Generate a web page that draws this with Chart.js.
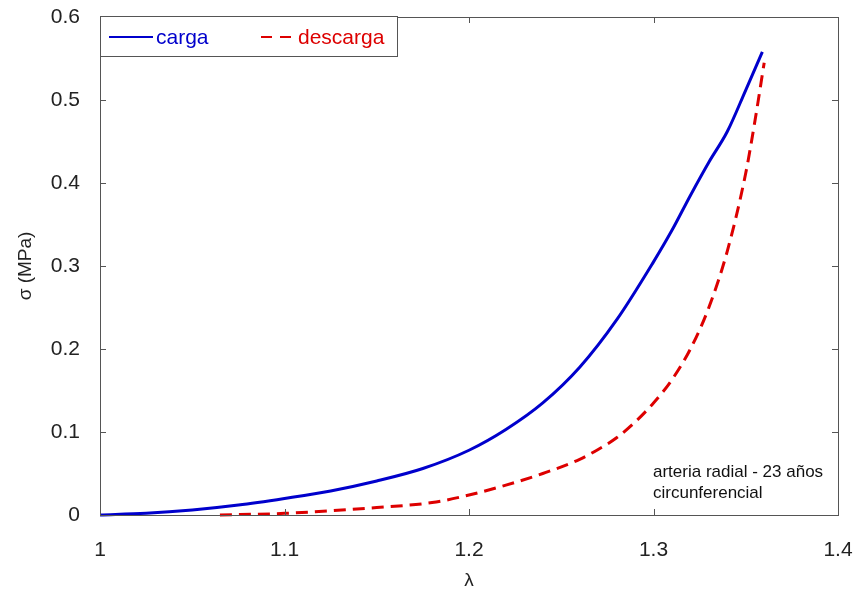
<!DOCTYPE html>
<html>
<head>
<meta charset="utf-8">
<script src="https://cdn.jsdelivr.net/npm/chart.js@4.4.1/dist/chart.umd.min.js"></script>
<style>
  html, body { margin: 0; padding: 0; background: #fff; }
  #wrap { width: 855px; height: 594px; }
</style>
</head>
<body>
<div id="wrap"><canvas id="grafico"></canvas></div>
<script>
// carga (loading) curve
const lambdaCarga = [1.000, 1.025, 1.050, 1.075, 1.100, 1.125, 1.150, 1.175, 1.200, 1.220, 1.240, 1.260, 1.280, 1.300, 1.310, 1.320, 1.330, 1.340, 1.350, 1.359];
const sigmaCarga  = [0.000, 0.002, 0.006, 0.012, 0.020, 0.029, 0.041, 0.056, 0.078, 0.103, 0.135, 0.178, 0.235, 0.305, 0.343, 0.385, 0.425, 0.462, 0.512, 0.558];

// descarga (unloading) curve
const lambdaDescarga = [1.065, 1.100, 1.150, 1.180, 1.200, 1.220, 1.240, 1.260, 1.270, 1.280, 1.290, 1.300, 1.310, 1.320, 1.330, 1.340, 1.350, 1.355, 1.360];
const sigmaDescarga  = [0.000, 0.002, 0.009, 0.015, 0.024, 0.036, 0.050, 0.067, 0.079, 0.093, 0.112, 0.135, 0.163, 0.200, 0.250, 0.318, 0.412, 0.475, 0.545];

const xTicks = [1, 1.1, 1.2, 1.3, 1.4];
const yTicks = [0, 0.1, 0.2, 0.3, 0.4, 0.5, 0.6];

const serieNombres = ['carga', 'descarga'];
const notaTexto = ['arteria radial - 23 años', 'circunferencial'];

const AZUL = '#0000cc';
const ROJO = '#dd0000';
const MARCO = '#555555';

const toPoints = (xs, ys) => xs.map((x, i) => ({ x: x, y: ys[i] }));

// frame box with inward ticks on all four sides
const marcoPlugin = {
    id: 'marco',
    afterDraw(chart) {
        const { ctx, chartArea: a, scales } = chart;
        ctx.save();
        ctx.strokeStyle = MARCO;
        ctx.lineWidth = 1;
        ctx.strokeRect(a.left + 0.5, a.top + 0.5, a.right - a.left, a.bottom - a.top);
        const len = 6;
        ctx.beginPath();
        xTicks.forEach(v => {
            const px = Math.round(scales.x.getPixelForValue(v)) + 0.5;
            ctx.moveTo(px, a.bottom); ctx.lineTo(px, a.bottom - len);
            ctx.moveTo(px, a.top); ctx.lineTo(px, a.top + len);
        });
        yTicks.forEach(v => {
            const py = Math.round(scales.y.getPixelForValue(v)) + 0.5;
            ctx.moveTo(a.left, py); ctx.lineTo(a.left + len, py);
            ctx.moveTo(a.right, py); ctx.lineTo(a.right - len, py);
        });
        ctx.stroke();

        // annotation text
        ctx.fillStyle = '#111';
        ctx.font = '17px "Liberation Sans", Arial, sans-serif';
        ctx.textBaseline = 'alphabetic';
        ctx.textAlign = 'left';
        ctx.fillText(notaTexto[0], a.left + 553, a.bottom - 38);
        ctx.fillText(notaTexto[1], a.left + 553, a.bottom - 17);

        // legend box
        const lx = a.left, ly = a.top - 1, lw = 297, lh = 40;
        ctx.fillStyle = '#fff';
        ctx.fillRect(lx, ly, lw, lh);
        ctx.strokeStyle = MARCO;
        ctx.strokeRect(lx + 0.5, ly + 0.5, lw, lh);
        const cy = ly + 21;
        ctx.lineWidth = 2;
        ctx.strokeStyle = AZUL;
        ctx.beginPath(); ctx.moveTo(lx + 9, cy); ctx.lineTo(lx + 53, cy); ctx.stroke();
        ctx.strokeStyle = ROJO;
        ctx.setLineDash([11, 8]);
        ctx.beginPath(); ctx.moveTo(lx + 161, cy); ctx.lineTo(lx + 192, cy); ctx.stroke();
        ctx.setLineDash([]);
        ctx.font = '21px "Liberation Sans", Arial, sans-serif';
        ctx.textBaseline = 'middle';
        ctx.fillStyle = AZUL;
        ctx.fillText(serieNombres[0], lx + 56, cy + 1);
        ctx.fillStyle = ROJO;
        ctx.fillText(serieNombres[1], lx + 198, cy + 1);
        ctx.restore();
    }
};

const ctx = document.getElementById('grafico').getContext('2d');
new Chart(ctx, {
    type: 'line',
    data: {
        datasets: [{
            label: serieNombres[0],
            data: toPoints(lambdaCarga, sigmaCarga),
            borderColor: AZUL,
            borderWidth: 3,
            pointRadius: 0,
            cubicInterpolationMode: 'monotone',
            clip: 3
        }, {
            label: serieNombres[1],
            data: toPoints(lambdaDescarga, sigmaDescarga),
            borderColor: ROJO,
            borderWidth: 3,
            borderDash: [12, 7],
            pointRadius: 0,
            cubicInterpolationMode: 'monotone',
            clip: 3
        }]
    },
    options: {
        responsive: true,
        maintainAspectRatio: false,
        animation: false,
        layout: { padding: { top: 17, right: 17, left: 0, bottom: 0 } },
        plugins: {
            legend: { display: false },
            tooltip: { enabled: false }
        },
        scales: {
            x: {
                type: 'linear',
                min: 1, max: 1.4,
                afterFit: s => {
                    s.height = 79;
                    s.paddingLeft = 0;
                    s.paddingRight = 0;
                },
                afterBuildTicks: s => { s.ticks = xTicks.map(v => ({ value: v })); },
                grid: { display: false, drawTicks: false },
                border: { display: false },
                ticks: {
                    padding: 23,
                    color: '#222',
                    font: { family: '"Liberation Sans", Arial, sans-serif', size: 21 },
                    callback: v => String(v)
                },
                title: {
                    display: true,
                    text: 'λ',
                    color: '#222',
                    font: { family: '"Liberation Sans", Arial, sans-serif', size: 19 },
                    padding: { top: 0, bottom: 2 }
                }
            },
            y: {
                type: 'linear',
                min: 0, max: 0.6,
                afterFit: s => {
                    s.width = 100;
                    s.paddingTop = 0;
                    s.paddingBottom = 0;
                },
                afterBuildTicks: s => { s.ticks = yTicks.map(v => ({ value: v })); },
                grid: { display: false, drawTicks: false },
                border: { display: false },
                ticks: {
                    padding: 20,
                    color: '#222',
                    font: { family: '"Liberation Sans", Arial, sans-serif', size: 21 },
                    callback: v => String(v)
                },
                title: {
                    display: true,
                    text: 'σ (MPa)',
                    color: '#222',
                    font: { family: '"Liberation Sans", Arial, sans-serif', size: 19 },
                    padding: { top: 14, bottom: 0 }
                }
            }
        }
    },
    plugins: [marcoPlugin]
});
</script>
</body>
</html>
